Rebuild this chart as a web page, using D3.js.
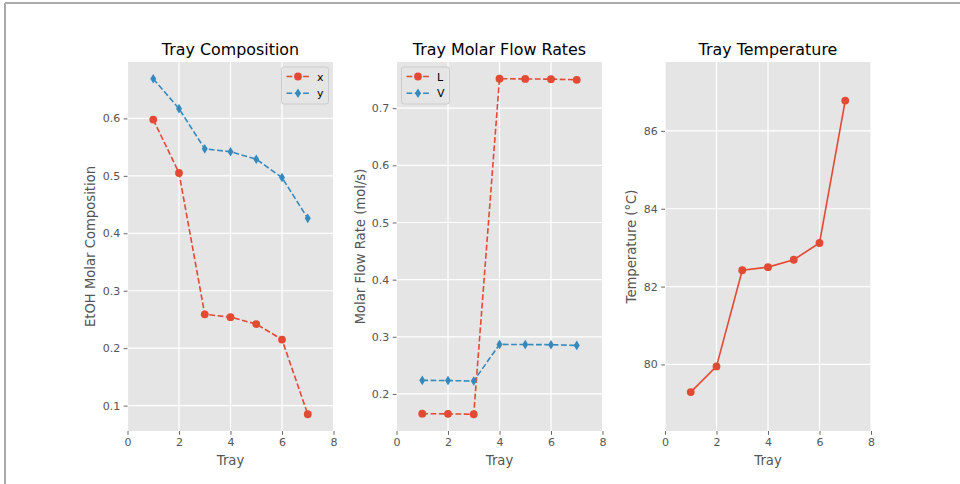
<!DOCTYPE html>
<html>
<head>
<meta charset="utf-8">
<script src="https://cdn.jsdelivr.net/npm/d3@7"></script>
<style>
  html, body { margin: 0; padding: 0; background: #fff; }
  svg { display: block; font-family: "DejaVu Sans", sans-serif; }
</style>
</head>
<body>
<svg id="chart" width="960" height="484"></svg>
<script>
// Tray numbers
const trays = [1, 2, 3, 4, 5, 6, 7];

// EtOH mole fractions: liquid (x) and vapour (y)
const xLiquid = [0.598, 0.505, 0.259, 0.254, 0.242, 0.215, 0.085];
const yVapour = [0.669, 0.617, 0.547, 0.542, 0.529, 0.497, 0.426];

// Molar flow rates (mol/s)
const flowL = [0.1655, 0.1652, 0.1645, 0.7515, 0.7512, 0.7508, 0.7497];
const flowV = [0.2238, 0.2235, 0.2226, 0.2867, 0.2865, 0.2862, 0.2850];

// Tray temperatures (°C)
const temps = [79.29, 79.95, 82.42, 82.50, 82.69, 83.12, 86.78];

// Tick labels
const xTicks = [0, 2, 4, 6, 8];
const compTicks = [0.1, 0.2, 0.3, 0.4, 0.5, 0.6];
const flowTicks = [0.2, 0.3, 0.4, 0.5, 0.6, 0.7];
const tempTicks = [80, 82, 84, 86];

const RED = "#E24A33", BLUE = "#348ABD";
const TICK_FS = 11, LABEL_FS = 13.2, TITLE_FS = 15.9;
const DASH = "5.8,2.5";
const svg = d3.select("#chart");

// Figure frame edges
svg.append("line").attr("x1", 5).attr("x2", 960).attr("y1", 3).attr("y2", 3)
  .attr("stroke", "#aaaaaa").attr("stroke-width", 2);
svg.append("line").attr("x1", 5).attr("x2", 5).attr("y1", 3).attr("y2", 484)
  .attr("stroke", "#aaaaaa").attr("stroke-width", 2);

const plotTop = 62, plotBottom = 431, plotWidth = 206;

function drawMarkers(g, s, pts) {
  if (s.marker === "circle") {
    g.selectAll(null).data(pts).join("circle")
      .attr("cx", d => d[0]).attr("cy", d => d[1]).attr("r", 3.9).attr("fill", s.color);
  } else {
    const h = 4.8, w = 3.0;
    g.selectAll(null).data(pts).join("path")
      .attr("d", d => `M${d[0]},${d[1] - h}L${d[0] + w},${d[1]}L${d[0]},${d[1] + h}L${d[0] - w},${d[1]}Z`)
      .attr("fill", s.color);
  }
}

function panel(opts) {
  const g = svg.append("g").attr("transform", `translate(${opts.left},0)`);
  const x = d3.scaleLinear().domain([0, 8]).range([0, plotWidth]);
  const y = d3.scaleLinear().domain(opts.yDomain).range([plotBottom, plotTop]);

  g.append("rect").attr("x", 0).attr("y", plotTop).attr("width", plotWidth)
    .attr("height", plotBottom - plotTop).attr("fill", "#E5E5E5");

  // grid
  g.selectAll(null).data(xTicks).join("line")
    .attr("x1", d => x(d)).attr("x2", d => x(d)).attr("y1", plotTop).attr("y2", plotBottom)
    .attr("stroke", "#fff").attr("stroke-width", 1.2);
  g.selectAll(null).data(opts.yTicks).join("line")
    .attr("x1", 0).attr("x2", plotWidth).attr("y1", d => y(d)).attr("y2", d => y(d))
    .attr("stroke", "#fff").attr("stroke-width", 1.2);

  // axes
  const xAxis = d3.axisBottom(x).tickValues(xTicks).tickSize(3.8).tickPadding(3.5)
    .tickFormat(d3.format("d"));
  const gx = g.append("g").attr("transform", `translate(0,${plotBottom})`).call(xAxis);
  const yAxis = d3.axisLeft(y).tickValues(opts.yTicks).tickSize(3.8).tickPadding(3.5)
    .tickFormat(opts.yFormat);
  const gy = g.append("g").call(yAxis);
  [gx, gy].forEach(a => {
    a.select(".domain").remove();
    a.selectAll(".tick line").attr("stroke", "#555555").attr("stroke-width", 0.9);
    a.selectAll(".tick text").attr("fill", "#555555").attr("font-size", TICK_FS)
      .attr("font-family", "DejaVu Sans, sans-serif");
  });

  // titles & labels
  g.append("text").attr("x", plotWidth / 2).attr("y", 54.5).attr("text-anchor", "middle")
    .attr("font-size", TITLE_FS).attr("fill", "#000").text(opts.title);
  g.append("text").attr("x", plotWidth / 2).attr("y", 465).attr("text-anchor", "middle")
    .attr("font-size", LABEL_FS).attr("fill", "#555555").text("Tray");
  g.append("text")
    .attr("transform", `translate(${opts.ylabelX},${(plotTop + plotBottom) / 2}) rotate(-90)`)
    .attr("text-anchor", "middle").attr("font-size", LABEL_FS).attr("fill", "#555555")
    .text(opts.ylabel);

  const line = d3.line().x((d, i) => x(trays[i])).y(d => y(d));
  opts.series.forEach(s => {
    g.append("path").datum(s.values).attr("d", line).attr("fill", "none")
      .attr("stroke", s.color).attr("stroke-width", 1.6)
      .attr("stroke-dasharray", s.dashed ? DASH : null);
    drawMarkers(g, s, s.values.map((v, i) => [x(trays[i]), y(v)]));
  });

  if (opts.legend) {
    const L = opts.legend;
    const lg = g.append("g").attr("transform", `translate(${L.x},${L.y})`);
    lg.append("rect").attr("x", 0).attr("y", 0).attr("width", L.w).attr("height", 37)
      .attr("rx", 2.5).attr("fill", "#E5E5E5").attr("fill-opacity", 0.8)
      .attr("stroke", "#cccccc").attr("stroke-width", 1);
    opts.series.forEach((s, i) => {
      const cy = 9.5 + i * 16.7;
      lg.append("line").attr("x1", 5).attr("x2", 28).attr("y1", cy).attr("y2", cy)
        .attr("stroke", s.color).attr("stroke-width", 1.6).attr("stroke-dasharray", DASH);
      drawMarkers(lg, s, [[16.5, cy]]);
      lg.append("text").attr("x", 35.5).attr("y", cy + 4).attr("font-size", TICK_FS)
        .attr("fill", "#000").text(s.name);
    });
  }
}

panel({
  left: 127.5, title: "Tray Composition", ylabel: "EtOH Molar Composition", ylabelX: -33,
  yDomain: [0.0558, 0.6982], yTicks: compTicks, yFormat: d3.format(".1f"),
  series: [
    { name: "x", values: xLiquid, color: RED, marker: "circle", dashed: true },
    { name: "y", values: yVapour, color: BLUE, marker: "diamond", dashed: true }
  ],
  legend: { x: 154, y: 67, w: 47 }
});

panel({
  left: 396.5, title: "Tray Molar Flow Rates", ylabel: "Molar Flow Rate (mol/s)", ylabelX: -32,
  yDomain: [0.1352, 0.7808], yTicks: flowTicks, yFormat: d3.format(".1f"),
  series: [
    { name: "L", values: flowL, color: RED, marker: "circle", dashed: true },
    { name: "V", values: flowV, color: BLUE, marker: "diamond", dashed: true }
  ],
  legend: { x: 5, y: 67, w: 48 }
});

panel({
  left: 665, title: "Tray Temperature", ylabel: "Temperature (°C)", ylabelX: -29,
  yDomain: [78.29, 87.77], yTicks: tempTicks, yFormat: d3.format("d"),
  series: [
    { name: "T", values: temps, color: RED, marker: "circle", dashed: false }
  ]
});
</script>
</body>
</html>
